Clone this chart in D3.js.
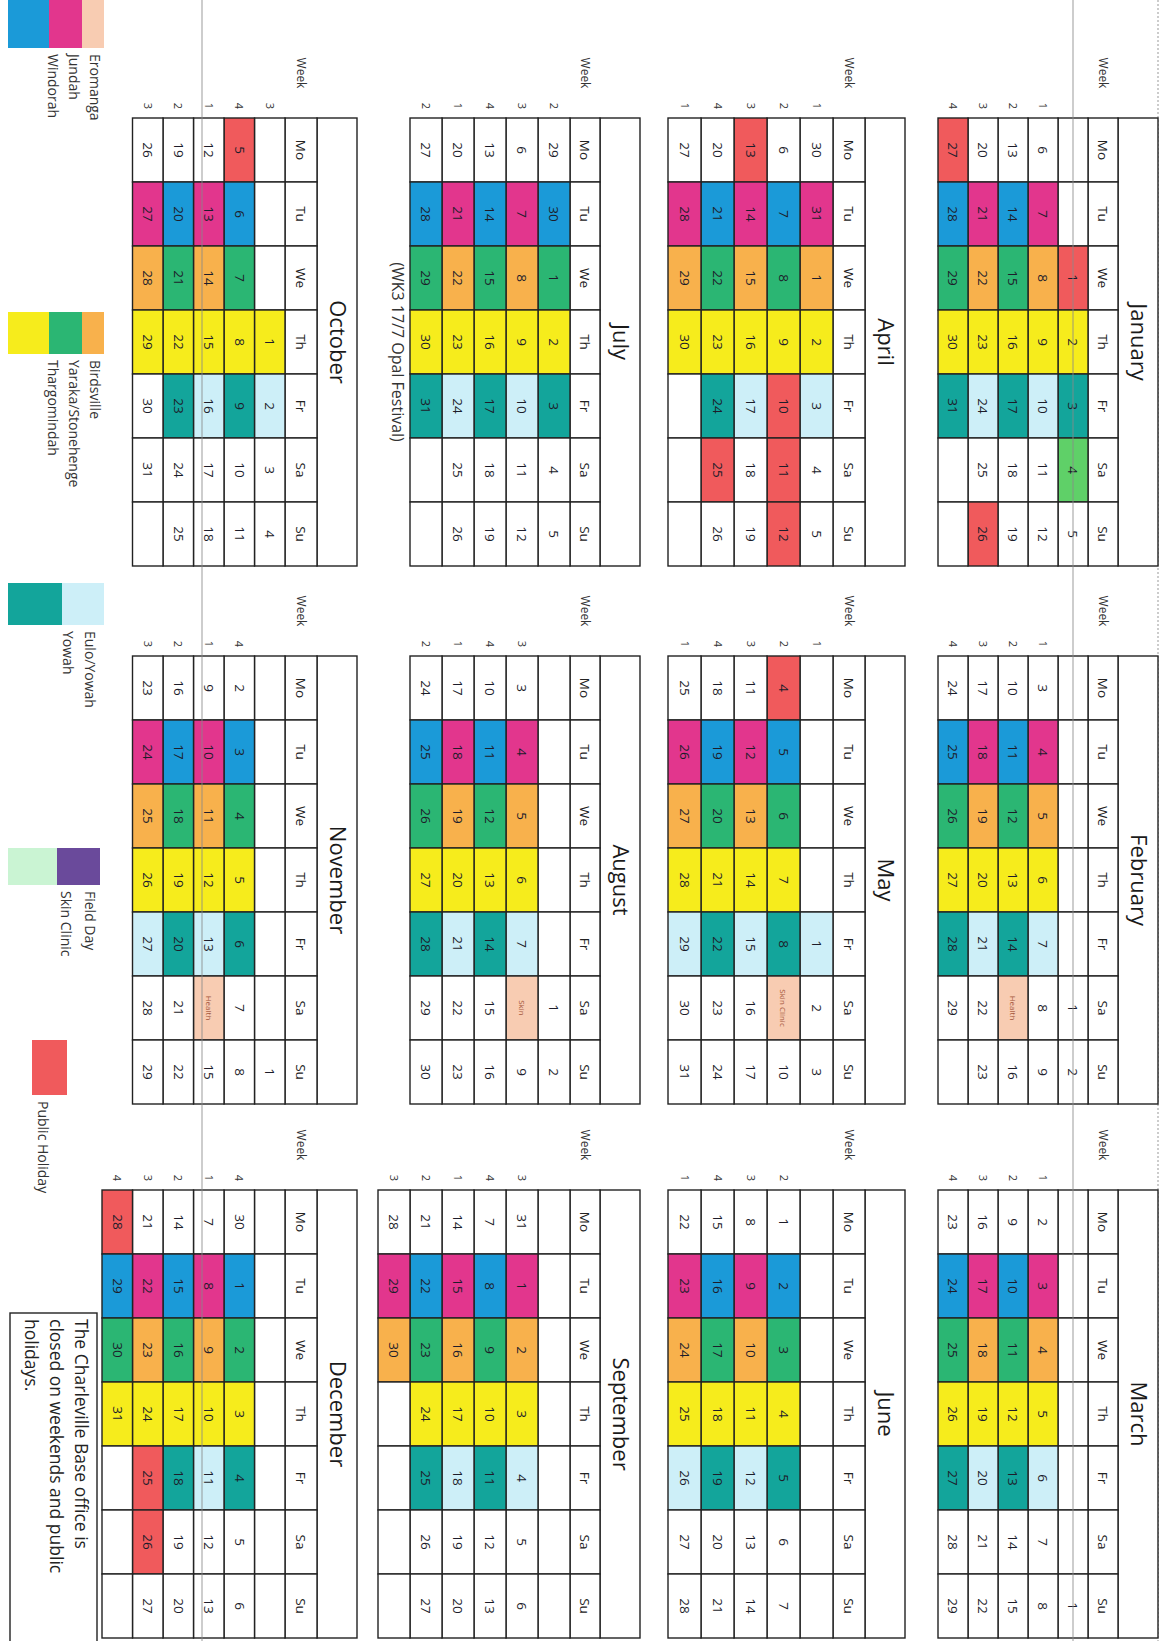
<!DOCTYPE html>
<html>
<head>
<meta charset="utf-8">
<script src="https://cdn.jsdelivr.net/npm/d3@7"></script>
<style>
  body { margin: 0; background: #fff; }
  svg { display: block; font-family: "Open Sans", "Liberation Sans", sans-serif; }
</style>
</head>
<body>
<svg id="chart"></svg>
<script>
// ---- data ----
const monthNames = ["January", "February", "March", "April", "May", "June",
  "July", "August", "September", "October", "November", "December"];
const dayNames = ["Mo", "Tu", "We", "Th", "Fr", "Sa", "Su"];

// day numbers per row (0 = empty), fill codes per row, week labels per row
const janDays = [[0,0,1,2,3,4,5],[6,7,8,9,10,11,12],[13,14,15,16,17,18,19],[20,21,22,23,24,25,26],[27,28,29,30,31,0,0]];
const janFill = ["..HTQV.", ".POTL..", ".WGTQ..", ".POTL.H", "HWGTQ.."];
const janWeek = ["", "1", "2", "3", "4"];

const febDays = [[0,0,0,0,0,1,2],[3,4,5,6,7,8,9],[10,11,12,13,14,15,16],[17,18,19,20,21,22,23],[24,25,26,27,28,29,0]];
const febFill = [".......", ".POTL..", ".WGTQR.", ".POTL..", ".WGTQ.."];
const febWeek = ["", "1", "2", "3", "4"];

const marDays = [[0,0,0,0,0,0,1],[2,3,4,5,6,7,8],[9,10,11,12,13,14,15],[16,17,18,19,20,21,22],[23,24,25,26,27,28,29]];
const marFill = [".......", ".POTL..", ".WGTQ..", ".POTL..", ".WGTQ.."];
const marWeek = ["", "1", "2", "3", "4"];

const aprDays = [[30,31,1,2,3,4,5],[6,7,8,9,10,11,12],[13,14,15,16,17,18,19],[20,21,22,23,24,25,26],[27,28,29,30,0,0,0]];
const aprFill = [".POTL..", ".WGTHHH", "HPOTL..", ".WGTQH.", ".POT..."];
const aprWeek = ["1", "2", "3", "4", "1"];

const mayDays = [[0,0,0,0,1,2,3],[4,5,6,7,8,9,10],[11,12,13,14,15,16,17],[18,19,20,21,22,23,24],[25,26,27,28,29,30,31]];
const mayFill = ["....L..", "HWGTQR.", ".POTL..", ".WGTQ..", ".POTL.."];
const mayWeek = ["1", "2", "3", "4", "1"];

const junDays = [[0,0,0,0,0,0,0],[1,2,3,4,5,6,7],[8,9,10,11,12,13,14],[15,16,17,18,19,20,21],[22,23,24,25,26,27,28]];
const junFill = [".......", ".WGTQ..", ".POTL..", ".WGTQ..", ".POTL.."];
const junWeek = ["", "2", "3", "4", "1"];

const julDays = [[29,30,1,2,3,4,5],[6,7,8,9,10,11,12],[13,14,15,16,17,18,19],[20,21,22,23,24,25,26],[27,28,29,30,31,0,0]];
const julFill = [".WGTQ..", ".POTL..", ".WGTQ..", ".POTL..", ".WGTQ.."];
const julWeek = ["2", "3", "4", "1", "2"];

const augDays = [[0,0,0,0,0,1,2],[3,4,5,6,7,8,9],[10,11,12,13,14,15,16],[17,18,19,20,21,22,23],[24,25,26,27,28,29,30]];
const augFill = [".......", ".POTLR.", ".WGTQ..", ".POTL..", ".WGTQ.."];
const augWeek = ["", "3", "4", "1", "2"];

const sepDays = [[0,0,0,0,0,0,0],[31,1,2,3,4,5,6],[7,8,9,10,11,12,13],[14,15,16,17,18,19,20],[21,22,23,24,25,26,27],[28,29,30,0,0,0,0]];
const sepFill = [".......", ".POTL..", ".WGTQ..", ".POTL..", ".WGTQ..", ".PO...."];
const sepWeek = ["", "3", "4", "1", "2", "3"];

const octDays = [[0,0,0,1,2,3,4],[5,6,7,8,9,10,11],[12,13,14,15,16,17,18],[19,20,21,22,23,24,25],[26,27,28,29,30,31,0]];
const octFill = ["...TL..", "HWGTQ..", ".POTL..", ".WGTQ..", ".POT..."];
const octWeek = ["3", "4", "1", "2", "3"];

const novDays = [[0,0,0,0,0,0,1],[2,3,4,5,6,7,8],[9,10,11,12,13,14,15],[16,17,18,19,20,21,22],[23,24,25,26,27,28,29]];
const novFill = [".......", ".WGTQ..", ".POTLR.", ".WGTQ..", ".POTL.."];
const novWeek = ["", "4", "1", "2", "3"];

const decDays = [[0,0,0,0,0,0,0],[30,1,2,3,4,5,6],[7,8,9,10,11,12,13],[14,15,16,17,18,19,20],[21,22,23,24,25,26,27],[28,29,30,31,0,0,0]];
const decFill = [".......", ".WGTQ..", ".POTL..", ".WGTQ..", ".POTHH.", "HWGT..."];
const decWeek = ["", "4", "1", "2", "3", "4"];

// small notes written in place of the day number: [month, row, col, text]
const cellNotes = [["February", 2, 5, "Health"], ["May", 1, 5, "Skin Clinic"],
  ["August", 1, 5, "Skin"], ["November", 2, 5, "Health"]];
const monthNotes = [["July", "(WK3 17/7 Opal Festival)"]];

const legendLabels = [["Eromanga", "Jundah", "Windorah"],
  ["Birdsville", "Yaraka/Stonehenge", "Thargomindah"],
  ["Eulo/Yowah", "Yowah"], ["Field Day", "Skin Clinic"], ["Public Holiday"]];
const legendCodes = [["R", "P", "W"], ["O", "G", "T"], ["L", "Q"], ["F", "S"], ["H"]];
const boxLines = ["The Charleville Base office is", "closed on weekends and public", "holidays."];

// ---- styles ----
const fillColors = {
  P: "#e2368d", W: "#1b9ad8", O: "#f8b14c", G: "#2bb673", T: "#f6ec1c",
  L: "#cdeff8", Q: "#13a59b", H: "#f05a5c", R: "#f8ccb2", V: "#5fd068",
  F: "#6a4a9b", S: "#caf4d3", ".": "#ffffff"
};

const months = [
  [janDays, janFill, janWeek], [febDays, febFill, febWeek], [marDays, marFill, marWeek],
  [aprDays, aprFill, aprWeek], [mayDays, mayFill, mayWeek], [junDays, junFill, junWeek],
  [julDays, julFill, julWeek], [augDays, augFill, augWeek], [sepDays, sepFill, sepWeek],
  [octDays, octFill, octWeek], [novDays, novFill, novWeek], [decDays, decFill, decWeek]
].map((m, i) => ({ name: monthNames[i], days: m[0], fills: m[1], weeks: m[2] }));

// ---- page, drawn landscape then turned a quarter clockwise ----
const pageW = 1641, pageH = 1162;
const svg = d3.select("#chart").attr("width", 1162).attr("height", 1641);
svg.append("rect").attr("width", 1162).attr("height", 1641).attr("fill", "#fff");
const page = svg.append("g").attr("transform", `translate(${pageH},0) rotate(90)`);

const colW = 64, titleH = 40;
const blockX = [118, 656, 1190];
const blockTop = [4, 257, 522, 805];
const blockHead = [30, 32, 30, 32];
const blockRow = [30, 33, 32, 30.5];

// faint dotted page rule along the top
page.append("line")
  .attr("x1", 0).attr("x2", pageW).attr("y1", 4).attr("y2", 4)
  .attr("stroke", "#999").attr("stroke-width", 1).attr("stroke-dasharray", "2,2");

months.forEach((m, i) => {
  const br = Math.floor(i / 3), bc = i % 3;
  const headH = blockHead[br], rowH = blockRow[br];
  const g = page.append("g").attr("transform", `translate(${blockX[bc]},${blockTop[br]})`);

  const x = d3.scaleBand().domain(dayNames).range([0, 7 * colW]);
  const y = d3.scaleBand().domain(d3.range(m.days.length))
    .range([titleH + headH, titleH + headH + m.days.length * rowH]);

  // title box
  g.append("rect").attr("x", 0).attr("y", 0)
    .attr("width", x.range()[1]).attr("height", titleH)
    .attr("fill", "#fff").attr("stroke", "#222").attr("stroke-width", 1.4);
  g.append("text")
    .attr("x", x.range()[1] / 2).attr("y", titleH / 2 + 1)
    .attr("text-anchor", "middle").attr("dominant-baseline", "middle")
    .attr("font-size", 22).attr("fill", "#1a1a1a").text(m.name);

  // header row
  g.selectAll("rect.head").data(dayNames).join("rect").attr("class", "head")
    .attr("x", d => x(d)).attr("y", titleH)
    .attr("width", x.bandwidth()).attr("height", headH)
    .attr("fill", "#fff").attr("stroke", "#222").attr("stroke-width", 1.4);
  g.selectAll("text.head").data(dayNames).join("text").attr("class", "head")
    .attr("x", d => x(d) + x.bandwidth() / 2).attr("y", titleH + headH / 2 + 1)
    .attr("text-anchor", "middle").attr("dominant-baseline", "middle")
    .attr("font-size", 13.5).attr("fill", "#222").text(d => d);
  g.append("text")
    .attr("x", -45).attr("y", titleH + headH / 2 + 1)
    .attr("text-anchor", "middle").attr("dominant-baseline", "middle")
    .attr("font-size", 12).attr("fill", "#333").text("Week");

  // cells
  const cells = m.days.flatMap((row, r) => row.map((d, c) => {
    const note = cellNotes.find(n => n[0] === m.name && n[1] === r && n[2] === c);
    return { r, c, d, f: m.fills[r][c], note: note ? note[3] : null };
  }));
  g.selectAll("rect.cell").data(cells).join("rect").attr("class", "cell")
    .attr("x", d => x(dayNames[d.c])).attr("y", d => y(d.r))
    .attr("width", x.bandwidth()).attr("height", y.bandwidth())
    .attr("fill", d => fillColors[d.f]).attr("stroke", "#222").attr("stroke-width", 1.4);
  g.selectAll("text.cell").data(cells.filter(d => d.d > 0)).join("text").attr("class", "cell")
    .attr("x", d => x(dayNames[d.c]) + x.bandwidth() / 2).attr("y", d => y(d.r) + y.bandwidth() / 2 + 1)
    .attr("text-anchor", "middle").attr("dominant-baseline", "middle")
    .attr("font-size", d => d.note ? 8 : 13.5)
    .attr("fill", d => d.note ? "#a4553a" : "#1d1d2b")
    .text(d => d.note ? d.note : d.d);

  // week numbers
  g.selectAll("text.week").data(m.weeks.map((w, r) => ({ w, r })).filter(d => d.w)).join("text")
    .attr("class", "week")
    .attr("x", -12).attr("y", d => y(d.r) + y.bandwidth() / 2 + 1)
    .attr("text-anchor", "middle").attr("dominant-baseline", "middle")
    .attr("font-size", 11).attr("fill", "#333").text(d => d.w);

  const mn = monthNotes.find(n => n[0] === m.name);
  if (mn) {
    g.append("text")
      .attr("x", x.range()[1] / 2 + 10).attr("y", y.range()[1] + 14)
      .attr("text-anchor", "middle").attr("dominant-baseline", "middle")
      .attr("font-size", 16).attr("fill", "#333").text(mn[1]);
  }
});

// scan fold lines
[89, 960].forEach(yy => {
  page.append("line").attr("x1", 0).attr("x2", pageW).attr("y1", yy).attr("y2", yy)
    .attr("stroke", "#8a8a8a").attr("stroke-width", 1.4).attr("opacity", 0.6);
});

// ---- legend ----
const legendX = [0, 312, 583, 848, 1040];
const legendSwW = [48, 42, 42, 37, 55];
const legendBands = [
  [[1058, 1080], [1080, 1113], [1113, 1154]],
  [[1058, 1080], [1080, 1113], [1113, 1154]],
  [[1058, 1100], [1100, 1154]],
  [[1062, 1105], [1105, 1154]],
  [[1095, 1130]]
];
const legendTextY = [[1068, 1089, 1110], [1068, 1089, 1110], [1073, 1095], [1073, 1097], [1120]];

legendLabels.forEach((labels, gi) => {
  const lg = page.append("g").attr("transform", `translate(${legendX[gi]},0)`);
  lg.selectAll("rect").data(legendCodes[gi]).join("rect")
    .attr("x", 0).attr("y", (d, k) => legendBands[gi][k][0])
    .attr("width", legendSwW[gi]).attr("height", (d, k) => legendBands[gi][k][1] - legendBands[gi][k][0])
    .attr("fill", d => fillColors[d]);
  lg.selectAll("text").data(labels).join("text")
    .attr("x", legendSwW[gi] + 6).attr("y", (d, k) => legendTextY[gi][k])
    .attr("dominant-baseline", "middle")
    .attr("font-size", 14).attr("fill", "#333").text(d => d);
});

// note box
const box = page.append("g").attr("transform", "translate(1313,1065)");
box.append("rect").attr("x", 0).attr("y", 0).attr("width", 340).attr("height", 87)
  .attr("fill", "#fff").attr("stroke", "#222").attr("stroke-width", 1.4);
box.selectAll("text").data(boxLines).join("text")
  .attr("x", 6).attr("y", (d, k) => 17 + k * 25)
  .attr("dominant-baseline", "middle")
  .attr("font-size", 17.5).attr("fill", "#222").text(d => d);
</script>
</body>
</html>
